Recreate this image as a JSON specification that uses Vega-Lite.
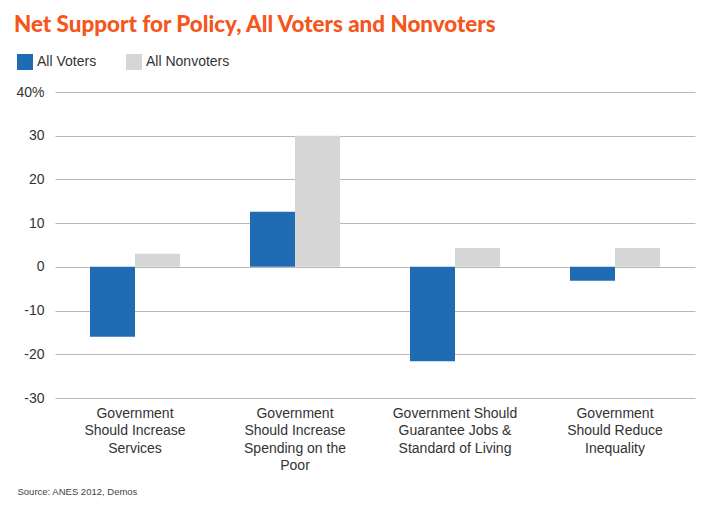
{
  "$schema": "https://vega.github.io/schema/vega-lite/v6.json",
  "width": 640,
  "height": 306,
  "autosize": {"type": "none"},
  "padding": {"left": 55, "top": 92, "right": 18, "bottom": 116},
  "background": "white",
  "title": {
    "text": "Net Support for Policy, All Voters and Nonvoters",
    "anchor": "start",
    "frame": "group",
    "dx": -41,
    "offset": 18,
    "font": "Lato",
    "fontWeight": 900,
    "fontSize": 22.4,
    "color": "#f4561c"
  },
  "data": {
    "values": [
      {"policy": "Government Should Increase Services", "group": "All Voters", "net": -16},
      {"policy": "Government Should Increase Services", "group": "All Nonvoters", "net": 3},
      {"policy": "Government Should Increase Spending on the Poor", "group": "All Voters", "net": 12.6},
      {"policy": "Government Should Increase Spending on the Poor", "group": "All Nonvoters", "net": 30},
      {"policy": "Government Should Guarantee Jobs & Standard of Living", "group": "All Voters", "net": -21.6},
      {"policy": "Government Should Guarantee Jobs & Standard of Living", "group": "All Nonvoters", "net": 4.3},
      {"policy": "Government Should Reduce Inequality", "group": "All Voters", "net": -3.2},
      {"policy": "Government Should Reduce Inequality", "group": "All Nonvoters", "net": 4.3}
    ]
  },
  "mark": {"type": "bar"},
  "encoding": {
    "x": {
      "field": "policy",
      "type": "nominal",
      "sort": null,
      "scale": {"paddingInner": 0.4375, "paddingOuter": 0.21875},
      "axis": {
        "title": "Source: ANES 2012, Demos",
        "titleFont": "Liberation Sans Narrow, Liberation Sans",
        "titleFontSize": 9.5,
        "titleFontWeight": "normal",
        "titleColor": "#444",
        "titleAnchor": "start",
        "titleAlign": "left",
        "titleBaseline": "alphabetic",
        "titleX": -38,
        "titleY": 96,
        "domain": false,
        "ticks": false,
        "labelAngle": 0,
        "labelPadding": 8,
        "labelFont": "Liberation Sans",
        "labelFontSize": 14,
        "labelColor": "#333",
        "labelLineHeight": 17.5,
        "labelLimit": 0,
        "labelBaseline": "top",
        "labelExpr": "datum.value == 'Government Should Increase Services' ? ['Government', 'Should Increase', 'Services'] : datum.value == 'Government Should Increase Spending on the Poor' ? ['Government', 'Should Increase', 'Spending on the', 'Poor'] : datum.value == 'Government Should Guarantee Jobs & Standard of Living' ? ['Government Should', 'Guarantee Jobs &', 'Standard of Living'] : ['Government', 'Should Reduce', 'Inequality']"
      }
    },
    "xOffset": {
      "field": "group",
      "type": "nominal",
      "scale": {"domain": ["All Voters", "All Nonvoters"], "paddingInner": 0, "paddingOuter": 0}
    },
    "y": {
      "field": "net",
      "type": "quantitative",
      "scale": {"domain": [-30, 40], "nice": false, "zero": false},
      "axis": {
        "title": null,
        "values": [-30, -20, -10, 0, 10, 20, 30, 40],
        "domain": false,
        "ticks": false,
        "labelPadding": 11,
        "labelFont": "Liberation Sans",
        "labelFontSize": 14,
        "labelColor": "#333",
        "gridColor": "#b8b8b8",
        "gridWidth": 1,
        "labelExpr": "datum.value == 40 ? '40%' : '' + datum.value"
      }
    },
    "color": {
      "field": "group",
      "type": "nominal",
      "scale": {"domain": ["All Voters", "All Nonvoters"], "range": ["#1f6cb4", "#d6d6d6"]},
      "legend": {
        "title": null,
        "orient": "none",
        "direction": "horizontal",
        "legendX": -38,
        "legendY": -38,
        "symbolType": "square",
        "symbolSize": 256,
        "symbolStrokeWidth": 0,
        "symbolOpacity": 1,
        "labelFont": "Liberation Sans",
        "labelFontSize": 14,
        "labelColor": "#333",
        "labelOffset": 4,
        "columnPadding": 29
      }
    }
  },
  "config": {"view": {"stroke": null}}
}
